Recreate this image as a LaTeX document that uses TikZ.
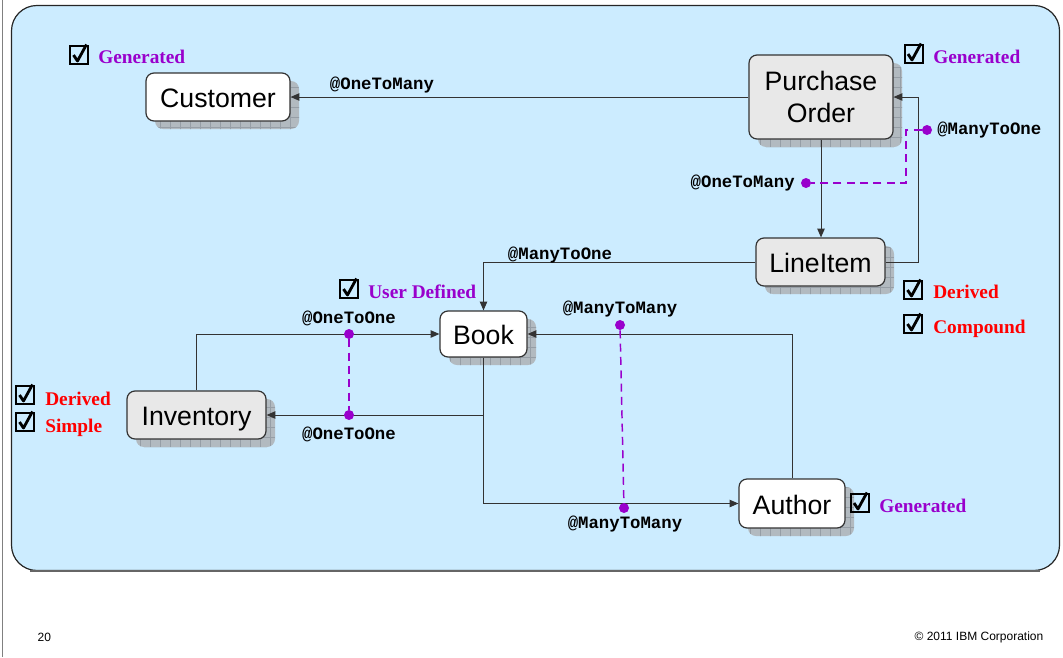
\documentclass[tikz,border=0pt]{standalone}
\usepackage{fontspec}
\setmainfont{Liberation Sans}
\newfontfamily\relfont{Liberation Mono}
\newfontfamily\tagfont{Liberation Serif}
\usetikzlibrary{arrows.meta, shadows, patterns.meta}

\definecolor{panelblue}{RGB}{204,236,255}
\definecolor{tagpurple}{RGB}{153,0,204}
\definecolor{tagred}{RGB}{255,0,0}
\definecolor{shadowgray}{RGB}{178,186,192}
\definecolor{shadowgrid}{RGB}{150,158,166}
\definecolor{boxgray}{RGB}{232,232,232}

\tikzset{
  entity/.style={draw=black!80, line width=0.9pt, rounded corners=6pt, fill=white,
    font=\fontsize{20}{24}\selectfont, align=center, inner sep=0pt,
    general shadow={shadow xshift=6.75pt, shadow yshift=-6pt, fill=shadowgray},
    general shadow={shadow xshift=6.75pt, shadow yshift=-6pt,
      pattern={Hatch[distance=7.5pt, line width=0.35pt]}, pattern color=shadowgrid}},
  derived/.style={entity, fill=boxgray},
  oneline/.style={text height=16pt, text depth=0pt},
  conn/.style={draw=black!80, line width=0.75pt, -{Triangle[length=6.5pt, width=5.5pt]}},
  assoc/.style={draw=tagpurple, line width=1.1pt, dash pattern=on 6pt off 4pt},
  dot/.style={circle, fill=tagpurple, inner sep=0pt, minimum size=7.5pt},
  rel/.style={font=\relfont\bfseries\fontsize{13}{13}\selectfont, inner sep=0pt},
  gen/.style={font=\tagfont\bfseries\fontsize{14.5}{14.5}\selectfont, text=tagpurple,
    inner sep=0pt, anchor=base west},
  kind/.style={gen, text=tagred},
  chk/.pic={
    \draw[line width=1.5pt] (-9,-9) rectangle (9,9);
    \draw[line width=2.1pt, line join=round] (-5.5,0) -- (-1.5,6) -- (7.5,-10.5);
  }
}

\begin{document}
\begin{tikzpicture}[x=0.75pt, y=-0.75pt]
\useasboundingbox (0,0) rectangle (1063,657);

% slide edge and the blue panel
\draw[gray, line width=0.8pt] (2.5,0) -- (2.5,657);
\draw[fill=panelblue, draw=black!85, line width=0.9pt, rounded corners=19pt]
  (11.5,5.5) rectangle (1059.5,570.5);
\draw[black!60, line width=1.2pt] (30,571) -- (1040,571);

% entities
\node[entity, oneline, minimum width=108pt, minimum height=36pt] (cust) at (218,97) {Customer};
\node[derived, minimum width=108pt, minimum height=63pt] (po) at (821,97) {Purchase\\Order};
\node[derived, oneline, minimum width=96.75pt, minimum height=36pt] (li) at (820.5,262) {LineItem};
\node[entity, oneline, minimum width=65.25pt, minimum height=34.5pt] (book) at (483.5,334) {Book};
\node[derived, oneline, minimum width=104.25pt, minimum height=36pt] (inv) at (196.5,415) {Inventory};
\node[entity, oneline, minimum width=79.5pt, minimum height=36.75pt] (auth) at (792,503.5) {Author};

% relationships
\draw[conn] (po.west) -- (cust.east);
\draw[conn] (po.south) -- (po.south |- li.north);
\draw[conn] (li.east) -- ++(33,0) |- (po.east);
\draw[conn] (li.west) -| (book.north);
\draw[conn] (inv.north) |- (book.west);
\draw[conn] (book.south) |- (inv.east);
\draw[conn] (auth.north) |- (book.east);
\draw[conn] (book.south) |- (auth.west);

% bidirectional pairs
\node[dot] (mo) at (927,130) {};
\node[dot] (om) at (806,183) {};
\draw[assoc] (mo) -- ++(-21,0) |- (om);
\node[dot] (ooa) at (349,334) {};
\node[dot] (oob) at (349,415) {};
\draw[assoc] (ooa) -- (oob);
\node[dot] (mma) at (620,325) {};
\node[dot] (mmb) at (624,508) {};
\draw[assoc] (mma) -- (mmb);

% annotations
\node[rel] (custrel) at (382,85) {@OneToMany};
\node[rel, anchor=west] (porel) at (937,130) {@ManyToOne};
\node[rel, anchor=east] (lirel) at (795,183) {@OneToMany};
\node[rel] (bookrel) at (560,255) {@ManyToOne};
\node[rel] (invrel) at (349,318) {@OneToOne};
\node[rel] (bkrel) at (349,434) {@OneToOne};
\node[rel] (authrel) at (620,309) {@ManyToMany};
\node[rel] (bkarel) at (625,524) {@ManyToMany};

% checked flags
\pic at (79,55) {chk};      \node[gen] (custgen) at (98,63) {Generated};
\pic at (913.5,54) {chk};   \node[gen] (pogen) at (933,63) {Generated};
\pic at (913,290) {chk};    \node[kind] (liderived) at (933,298) {Derived};
\pic at (913,324) {chk};    \node[kind] (licompound) at (933,333) {Compound};
\pic at (349,289) {chk};    \node[gen] (bookuser) at (368,298) {User Defined};
\pic at (25,395) {chk};     \node[kind] (invderived) at (45,405) {Derived};
\pic at (25,422) {chk};     \node[kind] (invsimple) at (45,432) {Simple};
\pic at (859.5,503) {chk};  \node[gen] (authgen) at (879,512) {Generated};

% footer
\node[font=\fontsize{9}{9}\selectfont, anchor=west] (page) at (33,637) {20};
\node[font=\fontsize{9}{9}\selectfont, anchor=east] (corp) at (1048,637) {\textcopyright{} 2011 IBM Corporation};
\end{tikzpicture}
\end{document}
